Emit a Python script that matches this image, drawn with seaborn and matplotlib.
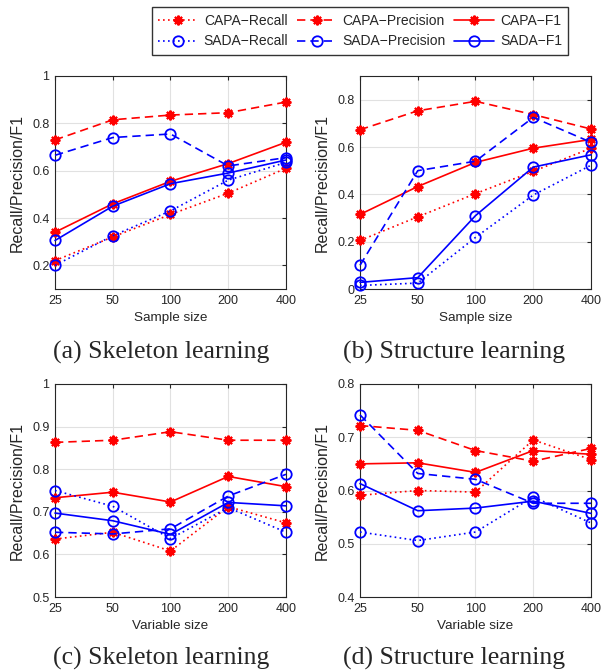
import numpy as np
import pandas as pd
import matplotlib
matplotlib.use("Agg")
import matplotlib.pyplot as plt
import seaborn as sns
from matplotlib.lines import Line2D

# donnees
sizes = [25, 50, 100, 200, 400]
tick_labels = ["25", "50", "100", "200", "400"]

# (a) skeleton learning, sample size
a_capa_recall = [0.22, 0.32, 0.415, 0.505, 0.61]
a_capa_prec = [0.73, 0.815, 0.835, 0.845, 0.89]
a_capa_f1 = [0.34, 0.46, 0.555, 0.63, 0.72]
a_sada_recall = [0.20, 0.325, 0.43, 0.56, 0.635]
a_sada_prec = [0.665, 0.74, 0.755, 0.62, 0.655]
a_sada_f1 = [0.305, 0.45, 0.545, 0.59, 0.645]

# (b) structure learning, sample size
b_capa_recall = [0.205, 0.305, 0.403, 0.497, 0.595]
b_capa_prec = [0.673, 0.753, 0.793, 0.737, 0.676]
b_capa_f1 = [0.315, 0.433, 0.535, 0.595, 0.632]
b_sada_recall = [0.015, 0.025, 0.218, 0.397, 0.523]
b_sada_prec = [0.10, 0.50, 0.54, 0.725, 0.62]
b_sada_f1 = [0.028, 0.048, 0.31, 0.515, 0.567]

# (c) skeleton learning, variable size
c_capa_recall = [0.636, 0.652, 0.608, 0.712, 0.674]
c_capa_prec = [0.863, 0.868, 0.888, 0.868, 0.868]
c_capa_f1 = [0.733, 0.746, 0.723, 0.783, 0.759]
c_sada_recall = [0.75, 0.713, 0.637, 0.71, 0.652]
c_sada_prec = [0.652, 0.648, 0.66, 0.737, 0.788]
c_sada_f1 = [0.697, 0.679, 0.647, 0.722, 0.714]

# (d) structure learning, variable size
d_capa_recall = [0.591, 0.60, 0.597, 0.695, 0.658]
d_capa_prec = [0.722, 0.713, 0.675, 0.655, 0.679]
d_capa_f1 = [0.65, 0.652, 0.634, 0.675, 0.668]
d_sada_recall = [0.522, 0.506, 0.522, 0.588, 0.539]
d_sada_prec = [0.742, 0.632, 0.621, 0.576, 0.576]
d_sada_f1 = [0.613, 0.562, 0.567, 0.58, 0.557]

series_names = ["CAPA\u2212Recall", "CAPA\u2212Precision", "CAPA\u2212F1",
                "SADA\u2212Recall", "SADA\u2212Precision", "SADA\u2212F1"]

panels = [
    ("(a) Skeleton learning", "Sample size", (0.1, 1.0), [0.2, 0.4, 0.6, 0.8, 1.0], ["0.2", "0.4", "0.6", "0.8", "1"],
     [a_capa_recall, a_capa_prec, a_capa_f1, a_sada_recall, a_sada_prec, a_sada_f1]),
    ("(b) Structure learning", "Sample size", (0.0, 0.9), [0, 0.2, 0.4, 0.6, 0.8], ["0", "0.2", "0.4", "0.6", "0.8"],
     [b_capa_recall, b_capa_prec, b_capa_f1, b_sada_recall, b_sada_prec, b_sada_f1]),
    ("(c) Skeleton learning", "Variable size", (0.5, 1.0), [0.5, 0.6, 0.7, 0.8, 0.9, 1.0], ["0.5", "0.6", "0.7", "0.8", "0.9", "1"],
     [c_capa_recall, c_capa_prec, c_capa_f1, c_sada_recall, c_sada_prec, c_sada_f1]),
    ("(d) Structure learning", "Variable size", (0.4, 0.8), [0.4, 0.5, 0.6, 0.7, 0.8], ["0.4", "0.5", "0.6", "0.7", "0.8"],
     [d_capa_recall, d_capa_prec, d_capa_f1, d_sada_recall, d_sada_prec, d_sada_f1]),
]

sns.set_style("white")
plt.rcParams['font.family'] = ['Liberation Sans', 'DejaVu Sans']

RED = "#ff0000"
BLUE = "#0000ff"
star = (8, 2, 0)
styles = [
    dict(color=RED, linestyle=(0, (1, 2)), marker=star, markersize=7, markeredgewidth=1.5),
    dict(color=RED, linestyle=(0, (5, 3)), marker=star, markersize=7, markeredgewidth=1.5),
    dict(color=RED, linestyle="-", marker=star, markersize=7, markeredgewidth=1.5),
    dict(color=BLUE, linestyle=(0, (1, 2)), marker="o", markersize=7.5, markerfacecolor="none", markeredgewidth=1.3),
    dict(color=BLUE, linestyle=(0, (5, 3)), marker="o", markersize=7.5, markerfacecolor="none", markeredgewidth=1.3),
    dict(color=BLUE, linestyle="-", marker="o", markersize=7.5, markerfacecolor="none", markeredgewidth=1.3),
]

W, H = 613, 671
fig = plt.figure(figsize=(W / 100, H / 100), dpi=100)

# positions en pixels: (gauche, haut) des axes
boxes = [(55, 76), (360, 76), (55, 384), (360, 384)]
aw, ah = 231, 213
captions_pos = [(161, 352), (454, 352), (161, 658), (454, 658)]

dark = "#262626"
for (title, xlab, ylim, yticks, ylabels, data), (px, py), (cx, cy) in zip(panels, boxes, captions_pos):
    ax = fig.add_axes([px / W, (H - py - ah) / H, aw / W, ah / H])
    for name, vals, st in zip(series_names, data, styles):
        df = pd.DataFrame({"size": sizes, "value": vals})
        sns.lineplot(data=df, x="size", y="value", ax=ax, linewidth=1.2,
                     markeredgecolor=st["color"], clip_on=False, zorder=3, **st)
    ax.set_xscale("log", base=2)
    ax.set_xlim(25, 400)
    ax.set_xticks(sizes)
    ax.set_xticklabels(tick_labels)
    ax.minorticks_off()
    ax.set_ylim(*ylim)
    ax.set_yticks(yticks)
    ax.set_yticklabels(ylabels)
    ax.grid(True, color="#e1e1e1", linewidth=0.8)
    ax.set_axisbelow(True)
    ax.tick_params(direction="in", length=3, labelsize=9, colors=dark, top=True, right=True, pad=4)
    for s in ax.spines.values():
        s.set_color(dark)
        s.set_linewidth(0.8)
    ax.set_xlabel(xlab, fontsize=9.7, color=dark, labelpad=4)
    ax.set_ylabel("Recall/Precision/F1", fontsize=11.5, color=dark, labelpad=5)
    fig.text(cx / W, 1 - cy / H, title, ha="center", va="center",
             fontsize=18.5, family=["Liberation Serif", "DejaVu Serif"])

# legende commune
handles = []
for name, st in zip(series_names, styles):
    handles.append(Line2D([], [], linewidth=1.2, markeredgecolor=st["color"], label=name, **st))
order = [0, 3, 1, 4, 2, 5]
leg = fig.legend([handles[i] for i in order], [series_names[i] for i in order],
                 ncol=3, loc="center", bbox_to_anchor=(360 / W, 1 - 31 / H),
                 frameon=True, fancybox=False, edgecolor="black", fontsize=10,
                 handlelength=2.9, columnspacing=0.6, handletextpad=0.4,
                 labelspacing=0.5, borderpad=0.45)
leg.get_frame().set_linewidth(1.0)

plt.savefig("out.png", dpi=100)
plt.close()
